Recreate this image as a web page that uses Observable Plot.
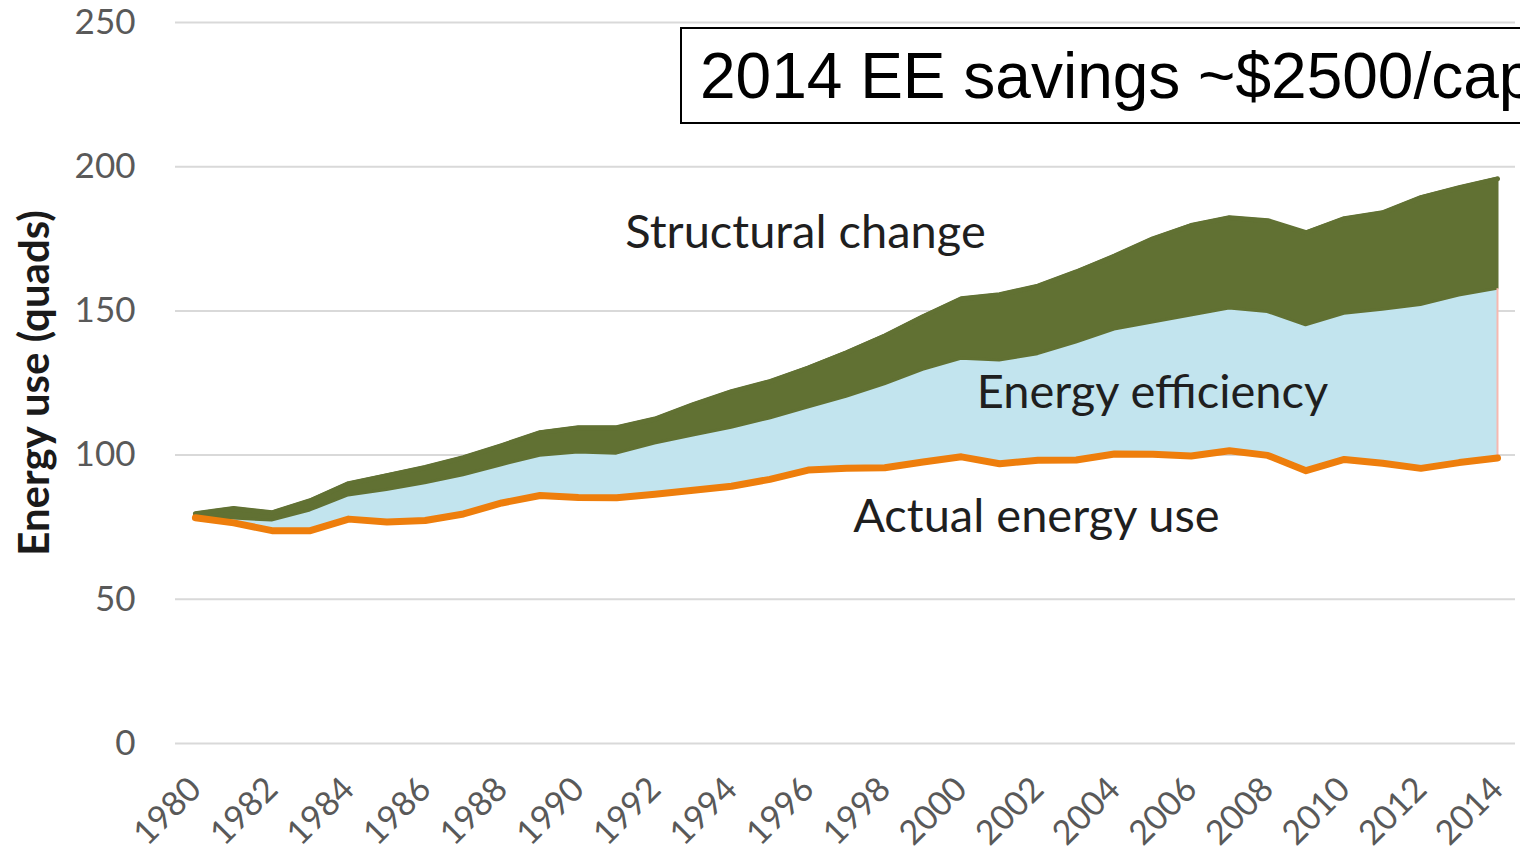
<!DOCTYPE html>
<html>
<head>
<meta charset="utf-8">
<script src="https://cdn.jsdelivr.net/npm/d3@7"></script>
<script src="https://cdn.jsdelivr.net/npm/@observablehq/plot@0.6"></script>
<style>
  html, body { margin: 0; padding: 0; background: #fff; overflow: hidden; }
  #wrap { position: relative; width: 1520px; height: 856px; overflow: hidden; }
  #box {
    position: absolute; left: 680px; top: 27px; width: 900px; height: 97px;
    border: 2px solid #000; background: #fff; box-sizing: border-box;
    font-family: "Liberation Sans", Arial, sans-serif; font-size: 64px; color: #000;
    white-space: nowrap; padding-left: 18px; line-height: 95px;
  }
</style>
</head>
<body>
<div id="wrap"><div id="chart"></div><div id="box">2014 EE savings ~$2500/capita</div></div>
<script>
const years = [1980,1981,1982,1983,1984,1985,1986,1987,1988,1989,1990,1991,1992,1993,1994,1995,1996,1997,1998,1999,2000,2001,2002,2003,2004,2005,2006,2007,2008,2009,2010,2011,2012,2013,2014];
const actualUse = [78.3,76.5,73.8,73.8,77.8,76.8,77.3,79.6,83.4,86.0,85.3,85.2,86.4,87.8,89.2,91.6,94.8,95.4,95.6,97.6,99.4,97.0,98.2,98.3,100.4,100.3,99.7,101.5,99.9,94.6,98.5,97.2,95.4,97.4,99.0];
const withEfficiency = [78.3,78.0,77.3,80.8,86.0,87.9,90.2,93.0,96.5,99.8,100.9,100.5,104.0,106.8,109.5,112.7,116.5,120.2,124.5,129.6,133.4,132.8,135.0,139.0,143.5,146.0,148.4,150.8,149.6,145.0,149.0,150.4,152.0,155.3,157.7];
const withStructural = [79.7,81.5,80.0,84.2,90.1,92.9,95.7,99.1,103.3,107.8,109.5,109.5,112.5,117.5,122.0,125.5,130.2,135.5,141.3,148.0,154.2,155.6,158.6,163.5,169.0,175.0,179.6,182.3,181.3,177.1,182.0,184.0,189.3,192.7,195.8];
const yTicks = [0,50,100,150,200,250];
const xTicks = [1980,1982,1984,1986,1988,1990,1992,1994,1996,1998,2000,2002,2004,2006,2008,2010,2012,2014];
const seriesLabels = ["Structural change","Energy efficiency","Actual energy use"];
const yTitle = "Energy use (quads)";

const data = years.map((yr, i) => ({year: yr, actual: actualUse[i], eff: withEfficiency[i], total: withStructural[i]}));
const last = data[data.length - 1];

const labelFont = {fontFamily: "Lato, 'Open Sans', sans-serif", fontSize: 47, fill: "#1f1f1f"};

const chart = Plot.plot({
  width: 1520,
  height: 856,
  marginLeft: 175,
  marginRight: 5,
  marginTop: 22,
  marginBottom: 113,
  style: {background: "#fff", overflow: "visible"},
  x: {domain: [1979.48, 2014.47], axis: null},
  y: {domain: [0, 250], axis: null},
  marks: [
    Plot.gridY(yTicks, {stroke: "#d9d9d9", strokeOpacity: 1, strokeWidth: 2}),
    Plot.axisY(yTicks, {tickSize: 0, tickPadding: 40, fontSize: 35, fontFamily: "Lato, sans-serif", fill: "#595959", label: null}),
    Plot.axisX(xTicks, {tickSize: 0, tickPadding: 40, tickRotate: -45, tickFormat: d => String(d), fontSize: 34, fontFamily: "Lato, sans-serif", fill: "#595959", label: null}),
    Plot.areaY(data, {x: "year", y1: "actual", y2: "eff", fill: "#c2e4ee"}),
    Plot.areaY(data, {x: "year", y1: "eff", y2: "total", fill: "#617133", stroke: "#617133", strokeWidth: 3, strokeLinejoin: "round"}),
    Plot.line(data, {x: "year", y: "total", stroke: "#617133", strokeWidth: 5, strokeLinecap: "round", strokeLinejoin: "round"}),
    Plot.ruleX([last], {x: "year", y1: "actual", y2: "eff", stroke: "#f6b8b0", strokeWidth: 2}),
    Plot.line(data, {x: "year", y: "actual", stroke: "#ee7e0c", strokeWidth: 7, strokeLinecap: "round", strokeLinejoin: "round"}),
    Plot.text([seriesLabels[0]], {x: 1995.93, y: 177.2, ...labelFont}),
    Plot.text([seriesLabels[1]], {x: 2004.99, y: 121.4, ...labelFont}),
    Plot.text([seriesLabels[2]], {x: 2001.96, y: 78.4, ...labelFont}),
    Plot.text([yTitle], {frameAnchor: "left", textAnchor: "middle", rotate: -90, dx: -140, fontSize: 42, fontWeight: "bold", fontFamily: "Lato, sans-serif", fill: "#1a1a1a"})
  ]
});
document.getElementById("chart").appendChild(chart);
</script>
</body>
</html>
